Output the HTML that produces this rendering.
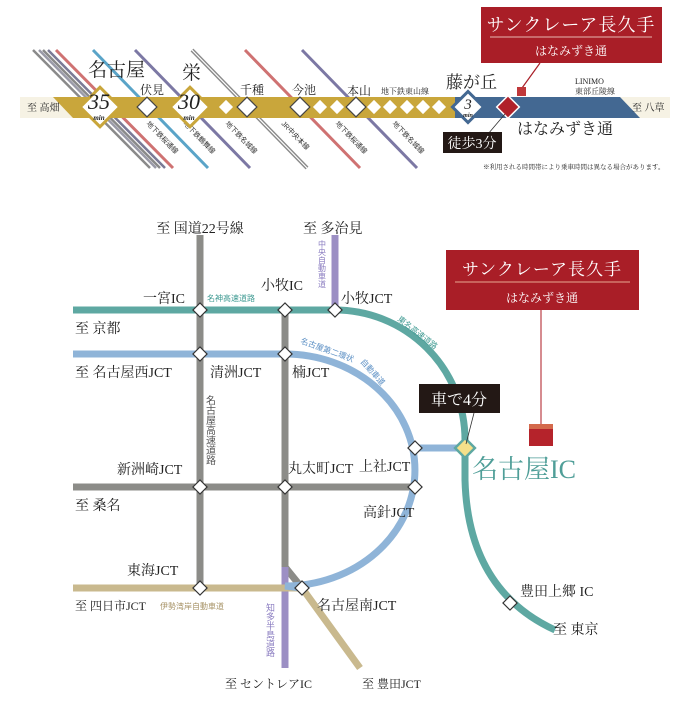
<!DOCTYPE html>
<html><head><meta charset="utf-8"><style>
html,body{margin:0;padding:0;background:#fff;}
svg{display:block;font-family:"Liberation Serif","Noto Serif CJK SC","Noto Sans CJK JP",serif;}
</style></head><body>
<svg width="700" height="720" viewBox="0 0 700 720" xmlns="http://www.w3.org/2000/svg">
<!-- diagonal lines (behind band) -->
<g stroke-width="2.5" fill="none">
<line x1="33" y1="50" x2="150" y2="168" stroke="#8a8a8a"/>
<line x1="39" y1="50" x2="156" y2="168" stroke="#9a9aa8"/>
<line x1="43" y1="50" x2="160" y2="168" stroke="#8a8a8a"/>
<line x1="48" y1="50" x2="165" y2="168" stroke="#7a7a96"/>
<line x1="56" y1="50" x2="173" y2="168" stroke="#cf7272" stroke-width="3"/>
<line x1="93" y1="50" x2="208" y2="168" stroke="#5aa4c8" stroke-width="3"/>
<line x1="135" y1="50" x2="250" y2="168" stroke="#7c78a4" stroke-width="3"/>
<line x1="192" y1="50" x2="307" y2="168" stroke="#8a8a8a" stroke-width="4"/>
<line x1="192" y1="50" x2="307" y2="168" stroke="#fff" stroke-width="1.2"/>
<line x1="245" y1="50" x2="360" y2="168" stroke="#cf7272" stroke-width="3"/>
<line x1="302" y1="50" x2="417" y2="168" stroke="#7c78a4" stroke-width="3"/>
</g>
<polygon points="20,97 670,97 670,118 20,118" fill="#f6f2e4"/>
<polygon points="53,97 460,97 460,118 73,118" fill="#c9a63b"/>
<polygon points="455,97 620,97 640,118 455,118" fill="#436892"/>
<g font-size="7" fill="#333" font-family="Liberation Sans,Noto Sans CJK JP,sans-serif">
<text transform="translate(146,124) rotate(46)">地下鉄桜通線</text>
<text transform="translate(183,124) rotate(46)">地下鉄鶴舞線</text>
<text transform="translate(225,124) rotate(46)">地下鉄名城線</text>
<text transform="translate(281,124) rotate(46)">JR中央本線</text>
<text transform="translate(335,124) rotate(46)">地下鉄桜通線</text>
<text transform="translate(392,124) rotate(46)">地下鉄名城線</text>
</g>
<g fill="#fff">
<rect x="-5" y="-5" width="10" height="10" transform="translate(226,107) rotate(45)"/>
<rect x="-5" y="-5" width="10" height="10" transform="translate(320,107) rotate(45)"/>
<rect x="-5" y="-5" width="10" height="10" transform="translate(337,107) rotate(45)"/>
<rect x="-5" y="-5" width="10" height="10" transform="translate(374,107) rotate(45)"/>
<rect x="-5" y="-5" width="10" height="10" transform="translate(390,107) rotate(45)"/>
<rect x="-5" y="-5" width="10" height="10" transform="translate(407,107) rotate(45)"/>
<rect x="-5" y="-5" width="10" height="10" transform="translate(423,107) rotate(45)"/>
<rect x="-5" y="-5" width="10" height="10" transform="translate(439,107) rotate(45)"/>
</g>
<g fill="#fff" stroke="#444" stroke-width="1.2">
<rect x="-7" y="-7" width="14" height="14" transform="translate(147,107) rotate(45)"/>
<rect x="-7" y="-7" width="14" height="14" transform="translate(247,107) rotate(45)"/>
<rect x="-7" y="-7" width="14" height="14" transform="translate(300,107) rotate(45)"/>
<rect x="-7" y="-7" width="14" height="14" transform="translate(356,107) rotate(45)"/>
</g>
<rect x="-14" y="-14" width="28" height="28" transform="translate(100,107) rotate(45)" fill="#fff" stroke="#c9a63b" stroke-width="3"/>
<rect x="-14" y="-14" width="28" height="28" transform="translate(190,107) rotate(45)" fill="#fff" stroke="#c9a63b" stroke-width="3"/>
<rect x="-11" y="-11" width="22" height="22" transform="translate(468,107) rotate(45)" fill="#fff" stroke="#436892" stroke-width="3"/>
<rect x="-8" y="-8" width="16" height="16" transform="translate(508,107) rotate(45)" fill="#b0212a" stroke="#fff" stroke-width="1.5"/>
<g font-style="italic" fill="#222" text-anchor="middle">
<text x="99" y="109" font-size="22">35</text><text x="99" y="120" font-size="7" font-weight="bold">min</text>
<text x="189" y="109" font-size="22">30</text><text x="189" y="120" font-size="7" font-weight="bold">min</text>
<text x="468" y="109" font-size="15">3</text><text x="468" y="117" font-size="6" font-weight="bold">min</text>
</g>
<g fill="#222">
<text x="88" y="76" font-size="19">名古屋</text>
<text x="140" y="94" font-size="12">伏見</text>
<text x="182" y="79" font-size="19">栄</text>
<text x="240" y="94" font-size="12">千種</text>
<text x="292" y="94" font-size="12">今池</text>
<text x="347" y="95" font-size="12">本山</text>
<text x="381" y="94" font-size="8">地下鉄東山線</text>
<text x="446" y="88" font-size="17">藤が丘</text>
<text x="27" y="111" font-size="10">至 高畑</text>
<text x="575" y="84" font-size="8">LINIMO</text>
<text x="575" y="94" font-size="8">東部丘陵線</text>
<text x="632" y="111" font-size="10">至 八草</text>
<text x="517" y="134" font-size="16">はなみずき通</text>
<text x="483" y="169" font-size="6.5">※利用される時間帯により乗車時間は異なる場合があります。</text>
</g>
<rect x="481" y="7" width="181" height="56" fill="#a91e27"/>
<text x="571" y="31" font-size="18" fill="#fff" text-anchor="middle" letter-spacing="1">サンクレーア長久手</text>
<line x1="490" y1="37" x2="652" y2="37" stroke="#e8b8b0" stroke-width="1"/>
<text x="571" y="55" font-size="12" fill="#fff" text-anchor="middle">はなみずき通</text>
<line x1="540" y1="63" x2="522" y2="88" stroke="#a91e27" stroke-width="1.2"/>
<rect x="517" y="87" width="9" height="9" fill="#c0383a"/>
<line x1="505" y1="114" x2="488" y2="134" stroke="#333" stroke-width="0.8"/>
<rect x="443" y="132" width="59" height="21" fill="#231815"/>
<text x="472" y="148" font-size="14" fill="#fff" text-anchor="middle">徒歩3分</text>

<!-- ===== MAP ===== -->
<g fill="none" stroke-width="7">
<line x1="200" y1="235" x2="200" y2="592" stroke="#8c8c88"/>
<path d="M285,310 V567 L302,588" stroke="#8c8c88"/>
<line x1="73" y1="487" x2="415" y2="487" stroke="#8c8c88"/>
<line x1="335" y1="235" x2="335" y2="310" stroke="#9c8fc4"/>
<line x1="285" y1="567" x2="285" y2="668" stroke="#9c8fc4"/>
<path d="M73,588 H302 L360,668" stroke="#c9b98e"/>
<path d="M73,354 H285 A130,116 0 0 1 285,586 L302,588" stroke="#8fb4d8"/>
<line x1="415" y1="448" x2="465" y2="448" stroke="#8fb4d8"/>
<path d="M73,310 H335 A130,130 0 0 1 465,440 V480 Q468,590 555,630" stroke="#5ea8a2"/>
</g>
<g fill="#fff" stroke="#333" stroke-width="1.2">
<rect x="-5" y="-5" width="10" height="10" transform="translate(200,310) rotate(45)"/>
<rect x="-5" y="-5" width="10" height="10" transform="translate(285,310) rotate(45)"/>
<rect x="-5" y="-5" width="10" height="10" transform="translate(335,310) rotate(45)"/>
<rect x="-5" y="-5" width="10" height="10" transform="translate(200,354) rotate(45)"/>
<rect x="-5" y="-5" width="10" height="10" transform="translate(285,354) rotate(45)"/>
<rect x="-5" y="-5" width="10" height="10" transform="translate(415,448) rotate(45)"/>
<rect x="-5" y="-5" width="10" height="10" transform="translate(200,487) rotate(45)"/>
<rect x="-5" y="-5" width="10" height="10" transform="translate(285,487) rotate(45)"/>
<rect x="-5" y="-5" width="10" height="10" transform="translate(415,487) rotate(45)"/>
<rect x="-5" y="-5" width="10" height="10" transform="translate(200,588) rotate(45)"/>
<rect x="-5" y="-5" width="10" height="10" transform="translate(302,588) rotate(45)"/>
<rect x="-5" y="-5" width="10" height="10" transform="translate(510,603) rotate(45)"/>
</g>
<rect x="-7" y="-7" width="14" height="14" transform="translate(465,448) rotate(45)" fill="#f4e08a" stroke="#5ea8a2" stroke-width="2.5"/>
<g fill="#222" font-size="14">
<text x="200" y="233" text-anchor="middle">至 国道22号線</text>
<text x="303" y="233">至 多治見</text>
<text x="143" y="303">一宮IC</text>
<text x="261" y="290">小牧IC</text>
<text x="341" y="303">小牧JCT</text>
<text x="75" y="333">至 京都</text>
<text x="75" y="377">至 名古屋西JCT</text>
<text x="210" y="377">清洲JCT</text>
<text x="292" y="377">楠JCT</text>
<text x="288" y="473">丸太町JCT</text>
<text x="359" y="471">上社JCT</text>
<text x="117" y="474">新洲崎JCT</text>
<text x="75" y="510">至 桑名</text>
<text x="363" y="517">高針JCT</text>
<text x="127" y="575">東海JCT</text>
<text x="75" y="610" font-size="12">至 四日市JCT</text>
<text x="317" y="610">名古屋南JCT</text>
<text x="225" y="688" font-size="12">至 セントレアIC</text>
<text x="362" y="688" font-size="12">至 豊田JCT</text>
<text x="520" y="596">豊田上郷 IC</text>
<text x="553" y="634">至 東京</text>
</g>
<g font-family="Liberation Sans,Noto Sans CJK JP,sans-serif" font-size="8">
<text x="207" y="301" fill="#3e9a92">名神高速道路</text>
<text x="160" y="609" fill="#a89468">伊勢湾岸自動車道</text>
<text x="209" y="395" fill="#555" writing-mode="tb" font-size="10">名古屋高速道路</text>
<text x="322" y="240" fill="#8a7cc0" writing-mode="tb">中央自動車道</text>
<text x="270" y="603" fill="#8a7cc0" writing-mode="tb" font-size="9">知多半島道路</text>
<text transform="translate(397,320) rotate(38)" fill="#3e9a92">東名高速道路</text>
<text transform="translate(300,343) rotate(20)" fill="#5b8fc4">名古屋第二環状</text>
<text transform="translate(360,362) rotate(48)" fill="#5b8fc4">自動車道</text>
</g>
<text x="472" y="478" font-size="26" fill="#4f9e98">名古屋IC</text>
<rect x="446" y="250" width="193" height="60" fill="#a91e27"/>
<text x="542" y="275" font-size="17" fill="#fff" text-anchor="middle" letter-spacing="1">サンクレーア長久手</text>
<line x1="455" y1="282" x2="630" y2="282" stroke="#e8a890" stroke-width="1"/>
<text x="542" y="302" font-size="12" fill="#fff" text-anchor="middle">はなみずき通</text>
<line x1="541" y1="310" x2="541" y2="426" stroke="#c9656a" stroke-width="1.5"/>
<rect x="529" y="424" width="24" height="22" fill="#b5232b"/>
<rect x="529" y="424" width="24" height="5" fill="#d46a4c"/>
<rect x="419" y="384" width="81" height="29" fill="#231815"/>
<text x="459" y="405" font-size="16" fill="#fff" text-anchor="middle">車で4分</text>
<line x1="474" y1="413" x2="466" y2="444" stroke="#333" stroke-width="0.8"/>
</svg>
</body></html>
